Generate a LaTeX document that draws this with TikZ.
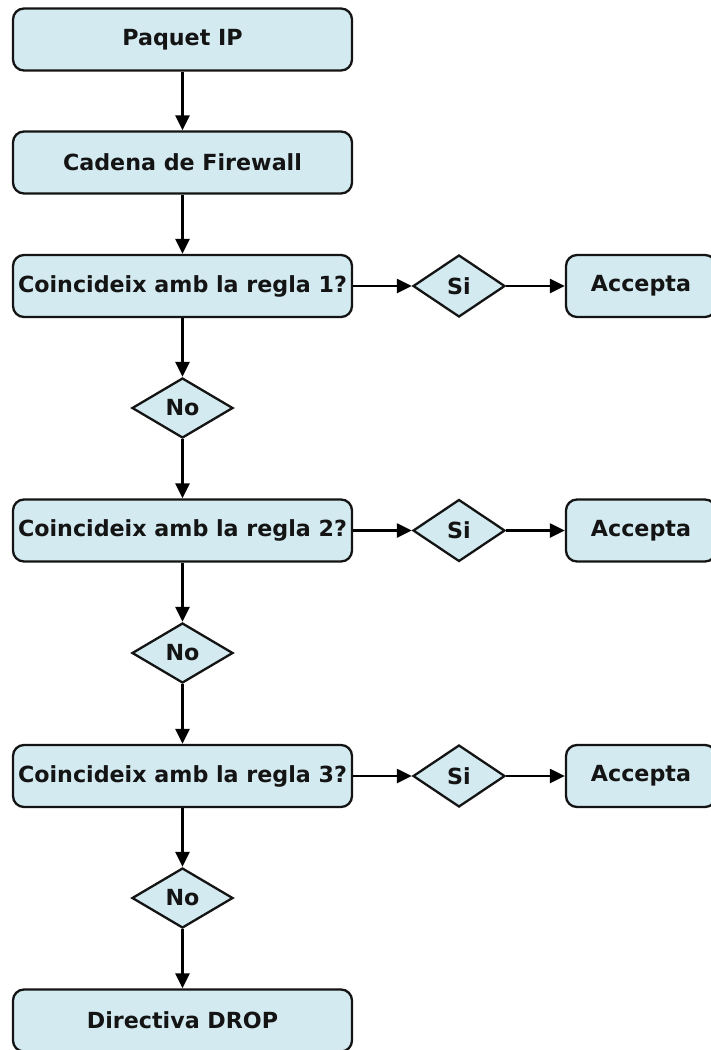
\documentclass[tikz,border=0pt]{standalone}
\usepackage{fontspec}
\setmainfont{DejaVu Sans}
\usetikzlibrary{shapes.geometric,arrows.meta}
\definecolor{boxfill}{RGB}{210,234,240}
\definecolor{boxline}{RGB}{20,20,20}
\begin{document}
\begin{tikzpicture}[x=1pt,y=-1pt,
  every node/.style={font=\fontsize{22.2}{25}\selectfont\bfseries, text=boxline},
  procbox/.style={draw=boxline, fill=boxfill, line width=2.3pt, rounded corners=11pt, inner sep=0pt, minimum height=62pt},
  mainbox/.style={procbox, minimum width=339pt},
  accbox/.style={procbox, minimum width=150pt},
  sidiam/.style={diamond, draw=boxline, fill=boxfill, line width=2.3pt, inner sep=0pt, minimum width=92pt, minimum height=62pt},
  nodiam/.style={diamond, draw=boxline, fill=boxfill, line width=2.3pt, inner sep=0pt, minimum width=101pt, minimum height=60pt},
  flow/.style={draw=black, line width=2.3pt, -{Triangle[length=15pt,width=14pt]}}
]
\useasboundingbox (0,0) rectangle (711,1050);
\fill[white] (0,0) rectangle (711,1050);

\node[mainbox] (p) at (182.5,39.5) {Paquet IP};
\node[mainbox] (c) at (182.5,162.5) {Cadena de Firewall};

\node[mainbox] (r1) at (182.5,286) {Coincideix amb la regla 1?};
\node[sidiam] (s1) at (459,286) {Si};
\node[accbox] (a1) at (641,286) {Accepta};
\node[nodiam] (n1) at (182.5,408) {No};

\node[mainbox] (r2) at (182.5,530.5) {Coincideix amb la regla 2?};
\node[sidiam] (s2) at (459,530.5) {Si};
\node[accbox] (a2) at (641,530.5) {Accepta};
\node[nodiam] (n2) at (182.5,653) {No};

\node[mainbox] (r3) at (182.5,776) {Coincideix amb la regla 3?};
\node[sidiam] (s3) at (459,776) {Si};
\node[accbox] (a3) at (641,776) {Accepta};
\node[nodiam] (n3) at (182.5,898) {No};

\node[mainbox] (d) at (182.5,1020.5) {Directiva DROP};

\draw[flow] (p) -- (c);
\draw[flow] (c) -- (r1);
\draw[flow] (r1) -- (s1);
\draw[flow] (s1) -- (a1);
\draw[flow] (r1) -- (n1);
\draw[flow] (n1) -- (r2);
\draw[flow] (r2) -- (s2);
\draw[flow] (s2) -- (a2);
\draw[flow] (r2) -- (n2);
\draw[flow] (n2) -- (r3);
\draw[flow] (r3) -- (s3);
\draw[flow] (s3) -- (a3);
\draw[flow] (r3) -- (n3);
\draw[flow] (n3) -- (d);
\end{tikzpicture}
\end{document}
